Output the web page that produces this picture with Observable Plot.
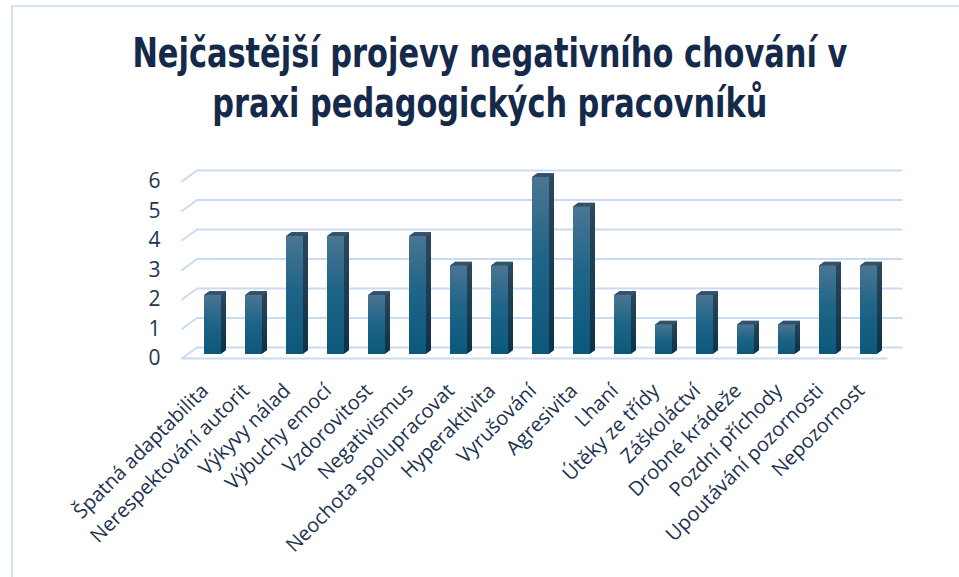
<!DOCTYPE html>
<html><head><meta charset="utf-8">
<script src="https://cdn.jsdelivr.net/npm/d3@7"></script>
<script src="https://cdn.jsdelivr.net/npm/@observablehq/plot@0.6"></script>
<style>
html,body{margin:0;padding:0;background:#fff;}
#wrap{position:relative;width:959px;height:577px;overflow:hidden;background:#fff;}
#frame{position:absolute;left:11px;top:5px;width:1000px;height:1000px;border-left:2px solid #d2e1f3;border-top:2px solid #d2e1f3;box-sizing:border-box;}
#title{position:absolute;left:0;width:980px;top:28px;text-align:center;font-weight:bold;font-size:40px;line-height:50px;font-family:"DejaVu Sans Condensed","DejaVu Sans",sans-serif;font-stretch:condensed;color:#15294a;}
#title span{display:inline-block;transform-origin:50% 50%;white-space:nowrap;}
#chart{position:absolute;left:0;top:0;}
</style></head>
<body>
<div id="wrap">
  <div id="frame"></div>
  <div id="title"><span id="t1">Nejčastější projevy negativního chování v</span><br><span id="t2">praxi pedagogických pracovníků</span></div>
  <div id="chart"></div>
</div>
<script>
const categories = ["Špatná adaptabilita","Nerespektování autorit","Výkyvy nálad","Výbuchy emocí","Vzdorovitost","Negativismus","Neochota spolupracovat","Hyperaktivita","Vyrušování","Agresivita","Lhaní","Útěky ze třídy","Záškoláctví","Drobné krádeže","Pozdní příchody","Upoutávání pozornosti","Nepozornost"];
const values = [2,2,4,4,2,4,3,3,6,5,2,1,2,1,1,3,3];
const yTicks = [0,1,2,3,4,5,6];

const data = categories.map((c, i) => ({cat: c, value: values[i]}));
const grid = "#c9dbf2";
const depth = [0.5,1,1.5,2,2.5,3,3.5,4,4.5,5];
const lineShape = {draw(ctx, l) { ctx.moveTo(0, 0); ctx.lineTo(0, -l); }};

const chart = Plot.plot({
  width: 959, height: 577,
  marginLeft: 187, marginRight: 66, marginTop: 177, marginBottom: 223,
  x: {type: "band", domain: categories, paddingInner: 0.59, paddingOuter: 0.295, label: null},
  y: {domain: [0, 6], label: null},
  style: {fontFamily: "'Open Sans', sans-serif", background: "transparent", overflow: "visible"},
  marks: [
    Plot.ruleY(yTicks, {dx: 9.5, dy: -7, stroke: grid, strokeWidth: 2}),
    Plot.ruleY([0], {dx: -5.5, dy: 4, stroke: grid, strokeWidth: 2}),
    Plot.vector(yTicks, {y: d => d, frameAnchor: "left", dx: -5.5, dy: 4, length: 18.6, rotate: 53.7, anchor: "start", shape: lineShape, stroke: grid, strokeWidth: 2}),
    ...depth.map(k => Plot.barY(data, {x: "cat", y: "value", dx: k, dy: -0.73 * k, fill: "url(#sideGrad)"})),
    ...depth.map(k => Plot.tickY(data, {x: "cat", y: "value", dx: k, dy: -0.73 * k, stroke: "#33536b", strokeWidth: 1.2})),
    Plot.barY(data, {x: "cat", y: "value", fill: "url(#barGrad)"}),
    Plot.axisY(yTicks, {tickSize: 0, tickPadding: 27, dy: 4, fontSize: 21, fill: "#22354e", label: null, tickFormat: d => String(d)}),
    Plot.axisX({tickSize: 0, tickPadding: 14, tickRotate: -45, fontSize: 20, dx: -8, dy: 19, fill: "#1d3350", label: null})
  ]
});

const defs = d3.select(chart).insert("defs", ":first-child");
const g1 = defs.append("linearGradient").attr("id", "barGrad").attr("x1", 0).attr("y1", 0).attr("x2", 0).attr("y2", 1);
g1.append("stop").attr("offset", "0%").attr("stop-color", "#4b7593");
g1.append("stop").attr("offset", "45%").attr("stop-color", "#1f6587");
g1.append("stop").attr("offset", "100%").attr("stop-color", "#0b587b");
const g2 = defs.append("linearGradient").attr("id", "sideGrad").attr("x1", 0).attr("y1", 0).attr("x2", 0).attr("y2", 1);
g2.append("stop").attr("offset", "0%").attr("stop-color", "#2a475d");
g2.append("stop").attr("offset", "100%").attr("stop-color", "#0e3249");

document.getElementById("chart").appendChild(chart);

// fit title lines to the reference widths (condensed face)
[["t1", 715], ["t2", 555]].forEach(([id, w]) => {
  const el = document.getElementById(id);
  const cur = el.getBoundingClientRect().width;
  if (cur > 0) el.style.transform = `scaleX(${w / cur})`;
});
</script>
</body></html>
